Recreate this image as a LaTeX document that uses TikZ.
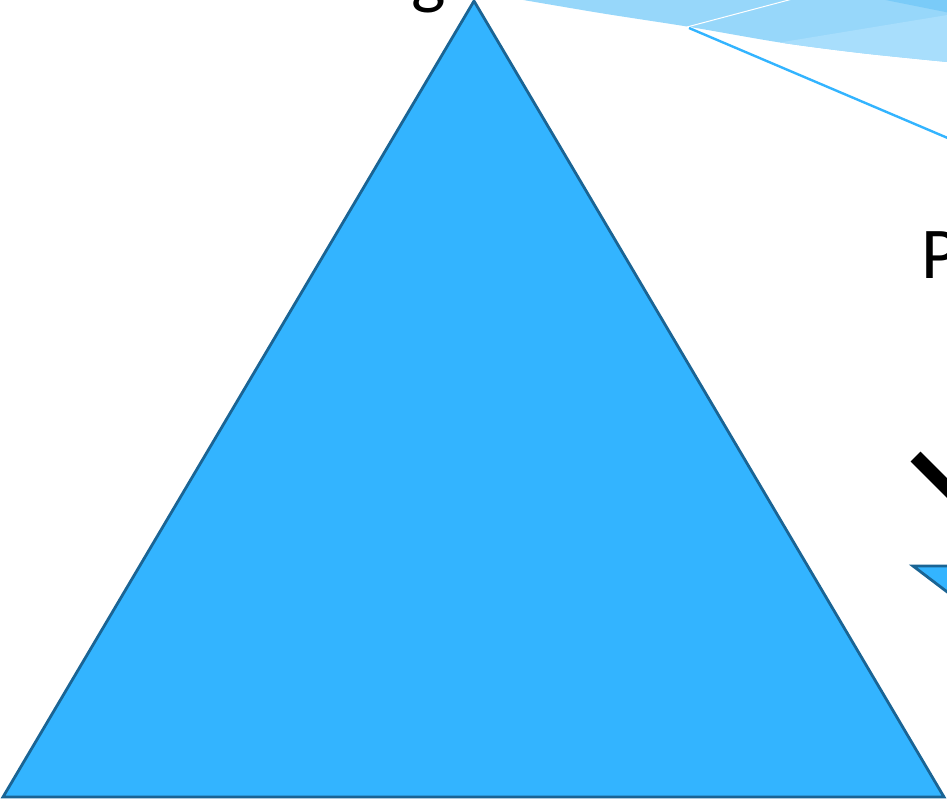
\documentclass[tikz,border=0pt]{standalone}
\usepackage{fontspec}
\setmainfont{Carlito}
\definecolor{mainblue}{HTML}{33B4FF}
\definecolor{edgeblue}{HTML}{1A6494}
\definecolor{fanmid}{HTML}{97D7FA}
\definecolor{fanlight}{HTML}{A8DEFC}
\definecolor{fandark}{HTML}{7ACBF8}
\tikzset{
  tri/.style={fill=mainblue, draw=edgeblue, line width=2.8pt, line join=miter},
  bigtext/.style={inner sep=0pt, font=\fontsize{73}{80}\selectfont}
}
\begin{document}
\begin{tikzpicture}[x=1pt,y=-1pt]
\useasboundingbox (0,0) rectangle (947,799);
\clip (0,0) rectangle (947,799);
% fan at top right
\fill[fanmid] plot[smooth] coordinates {(500,-4) (600,13) (690,27) (780,42.5) (860,53) (947,62) (990,66)} -- (990,-20) -- (500,-20) -- cycle;
\begin{scope}
  \clip plot[smooth] coordinates {(500,-4) (600,13) (690,27) (780,42.5) (860,53) (947,62) (990,66)} -- (990,-20) -- (500,-20) -- cycle;
  \fill[fanlight] (780,42.5) -- (990,8) -- (990,90) -- (780,90) -- cycle;
  \fill[fandark] (883,-0.5) -- (990,21) -- (990,-20) -- (870,-20) -- cycle;
\end{scope}
\draw[white, line width=1pt] (687,27) -- (800,-3);
\draw[mainblue, line width=2.4pt] (689,28) -- (990,156);
% main triangle
\draw[tri] (474,1) -- (944,797) -- (3,797) -- cycle;
% text fragments
\node[bigtext, anchor=base west] (g) at (411,1) {g};
\node[bigtext, anchor=base west] (p) at (921,279) {P};
% black stroke
\draw[black, line width=14pt, line cap=butt] (915.5,456.5) -- (990,531);
% small triangle at right
\draw[tri] (913,566) -- (1000,566) -- (1000,632) -- cycle;
\end{tikzpicture}
\end{document}
